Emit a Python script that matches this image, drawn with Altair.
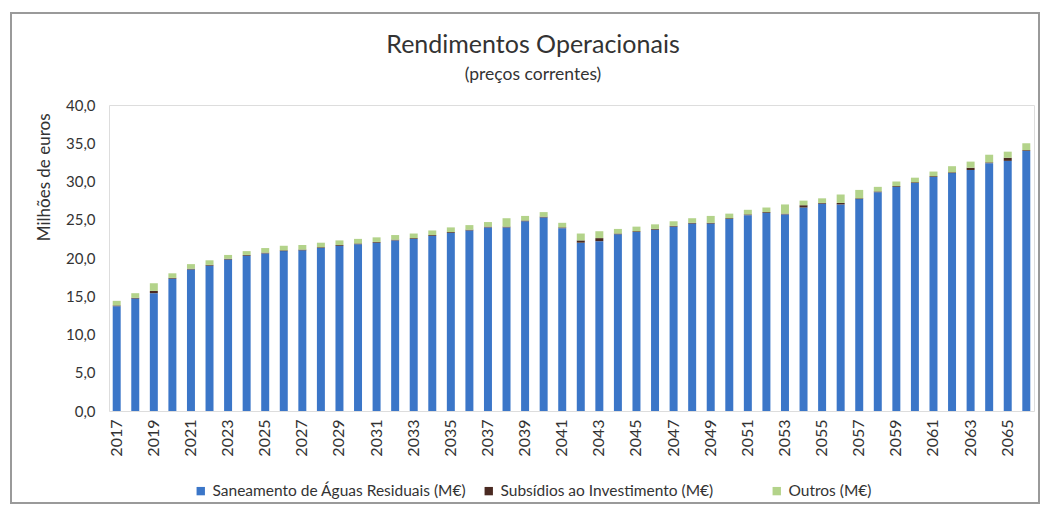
import altair as alt
import pandas as pd

years = list(range(2017, 2067))
totals = [14.4, 15.4, 16.7, 18.0, 19.2, 19.7, 20.4, 20.9, 21.3, 21.6,
          21.7, 22.0, 22.3, 22.5, 22.7, 23.0, 23.2, 23.6, 24.0, 24.3,
          24.7, 25.2, 25.5, 26.0, 24.6, 23.2, 23.5, 23.8, 24.1, 24.4,
          24.8, 25.2, 25.5, 25.8, 26.3, 26.6, 27.0, 27.5, 27.8, 28.3,
          28.9, 29.3, 30.0, 30.5, 31.3, 32.0, 32.6, 33.5, 33.9, 35.0]
subsidios = [0.1, 0.1, 0.3, 0.1, 0.1, 0.1, 0.1, 0.1, 0.1, 0.1,
             0.1, 0.1, 0.1, 0.1, 0.1, 0.1, 0.1, 0.1, 0.1, 0.1,
             0.1, 0.1, 0.1, 0.1, 0.1, 0.3, 0.4, 0.1, 0.1, 0.1,
             0.1, 0.1, 0.1, 0.1, 0.1, 0.1, 0.1, 0.3, 0.1, 0.2,
             0.1, 0.1, 0.1, 0.1, 0.1, 0.1, 0.3, 0.1, 0.4, 0.1]
outros = [0.6, 0.6, 1.0, 0.6, 0.6, 0.6, 0.5, 0.5, 0.6, 0.6,
          0.6, 0.6, 0.6, 0.6, 0.6, 0.6, 0.6, 0.6, 0.6, 0.6,
          0.6, 1.1, 0.6, 0.6, 0.6, 0.9, 0.9, 0.6, 0.6, 0.6,
          0.6, 0.6, 0.9, 0.6, 0.6, 0.6, 1.2, 0.6, 0.6, 1.1,
          1.1, 0.6, 0.6, 0.6, 0.6, 0.8, 0.8, 1.0, 0.8, 0.9]
series = ["Saneamento de Águas Residuais (M€)",
          "Subsídios ao Investimento (M€)",
          "Outros (M€)"]
colors = ["#3b76c8", "#4a2a22", "#b3d38a"]
title_text = "Rendimentos Operacionais"
subtitle_text = "(preços correntes)"

rows = []
for y, t, s, o in zip(years, totals, subsidios, outros):
    rows.append({"ano": y, "serie": series[0], "valor": round(t - s - o, 2), "ordem": 0})
    rows.append({"ano": y, "serie": series[1], "valor": s, "ordem": 1})
    rows.append({"ano": y, "serie": series[2], "valor": o, "ordem": 2})
df = pd.DataFrame(rows)

font = "Lato"
txt = "#333333"

bars = alt.Chart(df).mark_bar().encode(
    x=alt.X("ano:O",
            scale=alt.Scale(paddingInner=0.57, paddingOuter=0.2),
            axis=alt.Axis(title=None, values=years[::2], labelAngle=270,
                          labelAlign="right", labelBaseline="middle",
                          labelPadding=8, labelFontSize=16, domain=False,
                          ticks=False, labelColor=txt, labelFont=font)),
    y=alt.Y("valor:Q", stack="zero",
            scale=alt.Scale(domain=[0, 40]),
            axis=alt.Axis(title="Milhões de euros", values=list(range(0, 45, 5)),
                          labelExpr="replace(format(datum.value, '.1f'), '.', ',')",
                          grid=False, domain=False, ticks=False, labelPadding=14,
                          labelFontSize=15, titleFontSize=17, titleFontWeight="normal",
                          titlePadding=12, titleAnchor="end", titleY=8,
                          titleAlign="right", labelColor=txt,
                          titleColor=txt, labelFont=font, titleFont=font)),
    color=alt.Color("serie:N", scale=alt.Scale(domain=series, range=colors),
                    legend=alt.Legend(title=None, orient="none", direction="horizontal",
                                      legendX=84, legendY=378, symbolType="square",
                                      symbolSize=70, labelFontSize=15.5, labelLimit=0,
                                      labelColor=txt, labelFont=font, columns=3,
                                      gridAlign="all", columnPadding=14,
                                      symbolStrokeWidth=0)),
    order=alt.Order("ordem:Q"),
)

frame = alt.Chart(df).mark_rect(fill=None, stroke="#9a9a9a", strokeWidth=1.5).encode(
    x=alt.value(-98), x2=alt.value(930), y=alt.value(-92), y2=alt.value(398)
)

titles = pd.DataFrame({"t": [title_text], "s": [subtitle_text]})
title_mark = alt.Chart(titles).mark_text(
    fontSize=25, font=font, color=txt, align="center", baseline="middle"
).encode(text="t:N", x=alt.value(424), y=alt.value(-60))
subtitle_mark = alt.Chart(titles).mark_text(
    fontSize=17.5, font=font, color=txt, align="center", baseline="middle"
).encode(text="s:N", x=alt.value(424), y=alt.value(-30))

chart = alt.layer(frame, title_mark, subtitle_mark, bars).properties(
    width=925, height=306,
    padding={"left": 2, "top": 4, "right": 0, "bottom": 0},
).configure_view(strokeWidth=0).configure(background="white")

chart.save("out.html", embed_options={"renderer": "svg", "actions": False})
